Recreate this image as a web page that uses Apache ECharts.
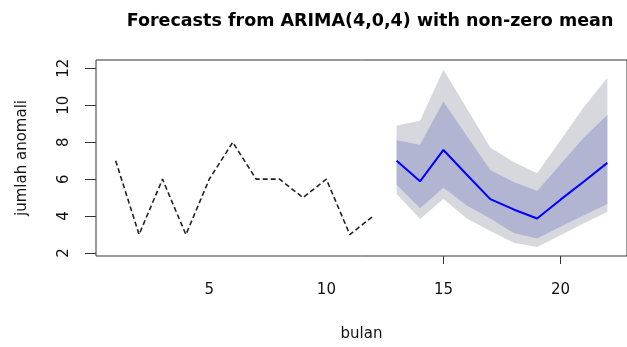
<!DOCTYPE html>
<html>
<head>
<meta charset="utf-8">
<script src="https://cdn.jsdelivr.net/npm/echarts@6/dist/echarts.min.js"></script>
<style>html,body{margin:0;padding:0;background:#fff;}#c{width:627px;height:347px;}</style>
</head>
<body>
<div id="c"></div>
<script>
// Observed series (bulan 1..12)
const histX = [1,2,3,4,5,6,7,8,9,10,11,12];
const histY = [7,3,6,3,6,8,6,6,5,6,3,4];
// Forecast (bulan 13..22)
const fcX   = [13,14,15,16,17,18,19,20,21,22];
const fcMean= [6.99,5.88,7.58,6.24,4.92,4.36,3.87,4.89,5.87,6.88];
const hi80  = [8.11,7.86,10.2,8.34,6.5,5.85,5.36,6.81,8.25,9.47];
const lo80  = [5.7,4.43,5.53,4.57,3.87,3.08,2.79,3.42,4.05,4.66];
const hi95  = [8.9,9.16,11.92,9.82,7.72,6.93,6.32,8.1,9.91,11.49];
const lo95  = [5.2,3.84,4.92,3.87,3.2,2.56,2.33,2.96,3.61,4.22];
const xLabels = [5,10,15,20];
const xTicks  = [15,20];
const yLabels = [2,4,6,8,10,12];

const pair = (xs, ys) => xs.map((x,i)=>[x, ys[i]]);

const font = '"DejaVu Sans", sans-serif';
const chart = echarts.init(document.getElementById('c'), null, {renderer:'canvas'});

// band drawn as one polygon through the axis scales
function bandSeries(name, upper, lower, color, z) {
  return {
    name, type:'custom', silent:true, z,
    data: fcX.map((x,i)=>[x, upper[i], lower[i]]),
    encode:{x:0, y:[1,2]},
    renderItem(params, api) {
      if (params.dataIndex !== 0) return null;
      const pts = [];
      for (let i = 0; i < fcX.length; i++) pts.push(api.coord([fcX[i], upper[i]]));
      for (let i = fcX.length - 1; i >= 0; i--) pts.push(api.coord([fcX[i], lower[i]]));
      return {type:'polygon', shape:{points:pts}, style:{fill:color, stroke:null}};
    }
  };
}

chart.setOption({
  animation:false,
  title:{
    text:'Forecasts from ARIMA(4,0,4) with non-zero mean',
    left:365, top:7, textAlign:'center',
    textStyle:{fontFamily:font, fontWeight:'bold', fontSize:17.5, color:'#000'}
  },
  grid:{left:96, top:60, width:544, height:202, show:true, borderColor:'#333', borderWidth:1, backgroundColor:'transparent'},
  xAxis:{
    type:'value', min:0.16, max:22.84,
    name:'bulan', nameLocation:'middle', nameGap:71,
    nameTextStyle:{fontFamily:font, fontSize:15, color:'#111'},
    axisLine:{show:false},
    splitLine:{show:false},
    axisTick:{show:true, length:8, customValues:xTicks, lineStyle:{color:'#333'}},
    axisLabel:{customValues:xLabels, fontFamily:font, fontSize:15, color:'#111', margin:27}
  },
  yAxis:{
    type:'value', min:1.84, max:12.45,
    name:'jumlah anomali', nameLocation:'middle', nameGap:66, nameRotate:90,
    nameTextStyle:{fontFamily:font, fontSize:15, color:'#111'},
    axisLine:{show:false},
    splitLine:{show:false},
    axisTick:{show:true, length:11, customValues:yLabels, lineStyle:{color:'#333'}},
    axisLabel:{customValues:yLabels, rotate:90, fontFamily:font, fontSize:15, color:'#111', margin:24}
  },
  series:[
    bandSeries('95%', hi95, lo95, '#D7D7DE', 1),
    bandSeries('80%', hi80, lo80, '#B1B5D2', 2),
    {
      name:'observed', type:'line', data:pair(histX, histY), symbol:'none',
      lineStyle:{color:'#222', width:1.6, type:[5,3]}, z:3
    },
    {
      name:'mean', type:'line', data:pair(fcX, fcMean), symbol:'none',
      lineStyle:{color:'#0000FF', width:2}, z:4
    }
  ]
});
</script>
</body>
</html>
